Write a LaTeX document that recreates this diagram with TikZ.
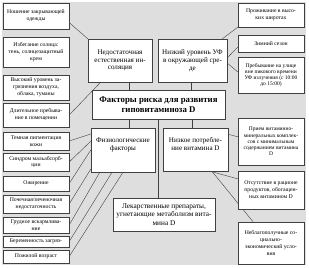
\documentclass[tikz,border=0pt]{standalone}
\usepackage{fontspec}
\setmainfont{Liberation Serif}
\usetikzlibrary{calc}
\pgfdeclarelayer{bg}
\pgfdeclarelayer{lns}
\pgfsetlayers{bg,lns,main}
\definecolor{bgc}{RGB}{222,222,222}
\tikzset{
  box/.style={draw=black!75, line width=0.4pt, fill=white, inner sep=1pt, align=center, anchor=center},
  sm/.style={box, font=\fontsize{5.7}{6.9}\selectfont},
  md/.style={box, font=\fontsize{7.1}{7.8}\selectfont},
  conn/.style={draw=black!75, line width=0.4pt}
}
\begin{document}
\begin{tikzpicture}[x=1pt,y=-1pt]
\begin{pgfonlayer}{bg}
\fill[white] (0,0) rectangle (309,268);
\fill[bgc] (2,2) rectangle (306,265);
\end{pgfonlayer}
\useasboundingbox (0,0) rectangle (309,268);

% left column
\node[sm, minimum width=66pt, minimum height=26pt] (L1) at (36,16) {Ношение закрывающей\\одежды};
\node[sm, minimum width=66pt, minimum height=30pt] (L2) at (36,52) {Избегание солнца:\\тень, солнцезащитный\\крем};
\node[sm, minimum width=66pt, minimum height=25pt] (L3) at (36,87.5) {Высокий уровень за-\\грязнения воздуха,\\облака, туманы};
\node[sm, minimum width=66pt, minimum height=24pt] (L4) at (36,115) {Длительное пребыва-\\ние в помещении};
\node[sm, minimum width=66pt, minimum height=18pt] (L5) at (36,141) {Темная пигментация\\кожи};
\node[sm, minimum width=66pt, minimum height=18pt] (L6) at (36,162) {Синдром мальабсорб-\\ции};
\node[sm, minimum width=66pt, minimum height=15pt] (L7) at (36,183.5) {Ожирение};
\node[sm, minimum width=66pt, minimum height=18pt] (L8) at (36,204) {Почечная/печеночная\\недостаточность};
\node[sm, minimum width=66pt, minimum height=16pt] (L9) at (36,225) {Грудное вскармлива-\\ние};
\node[sm, minimum width=66pt, minimum height=11pt] (L10) at (36,241.5) {Беременность загряз-};
\node[sm, minimum width=66pt, minimum height=13pt] (L11) at (36,256.5) {Пожилой возраст};

% centre
\node[md, minimum width=64pt, minimum height=43pt] (N) at (120,60.5) {Недостаточная\\естественная ин-\\соляция};
\node[md, minimum width=69pt, minimum height=43pt] (U) at (192.5,60.5) {Низкий уровень УФ\\в окружающей сре-\\де};
\node[box, font=\bfseries\fontsize{8.8}{10}\selectfont, minimum width=133pt, minimum height=29pt] (C) at (158.5,104.5) {Факторы риска для развития\\гиповитаминоза D};
\node[md, minimum width=64pt, minimum height=44pt] (F) at (123,150) {Физиологические\\факторы\\[4pt]};
\node[md, minimum width=65pt, minimum height=43pt] (P) at (195.5,149.5) {Низкое потребле-\\ние витамина D\\[4pt]};
\node[box, font=\fontsize{7.3}{8.3}\selectfont, minimum width=102pt, minimum height=33pt] (M) at (164,214.5) {Лекарственные препараты,\\угнетающие метаболизм вита-\\мина D};

% right column
\node[sm, minimum width=66pt, minimum height=24pt] (R1) at (271,15) {Проживание в высо-\\ких широтах};
\node[sm, minimum width=66pt, minimum height=17pt] (R2) at (271,43.5) {Зимний сезон};
\node[sm, font=\fontsize{5.5}{6.2}\selectfont, minimum width=66pt, minimum height=36pt] (R3) at (271,75) {Пребывание на улице\\вне пикового времени\\УФ излучения (с 10:00\\до 15:00)};
\node[sm, font=\fontsize{5.5}{6.2}\selectfont, minimum width=66pt, minimum height=47pt] (R4) at (271,141.5) {Прием витаминно-\\минеральных комплек-\\сов с минимальным\\содержанием витамина\\D};
\node[sm, minimum width=66pt, minimum height=38pt] (R5) at (271,190) {Отсутствие в рационе\\продуктов, обогащен-\\ных витамином D};
\node[sm, minimum width=66pt, minimum height=42pt] (R6) at (271,243) {Неблагополучные со-\\циально-\\экономический усло-\\вия};

\begin{pgfonlayer}{lns}
% insolation
\draw[conn] ($(L1.east)!0.5!(L1.south east)$) -- (N.north west);
\draw[conn] (L4.east) -- ($(N.south west)!0.2!(N.south east)$);
% centre verticals
\draw[conn] ($(N.south west)!0.64!(N.south east)$) coordinate (a1) -- (a1 |- C.north);
\draw[conn] ($(U.south west)!0.48!(U.south east)$) coordinate (a2) -- (a2 |- C.north);
\draw[conn] ($(F.north west)!0.59!(F.north east)$) coordinate (a3) -- (a3 |- C.south);
\draw[conn] ($(P.north west)!0.45!(P.north east)$) coordinate (a4) -- (a4 |- C.south);
\draw[conn] (C.south) -- (C.south |- M.north);
% UV
\draw[conn] ($(U.north west)!0.93!(U.north east)$) -- (R1.south west);
\draw[conn] ($(U.east)!0.12!(U.north east)$) -- ($(R2.west)!0.4!(R2.south west)$);
\draw[conn] ($(U.east)!0.12!(U.south east)$) -- ($(R3.west)!0.17!(R3.north west)$);
% physiological
\draw[conn] (L5.east) -- ($(F.north west)!0.14!(F.south west)$);
\draw[conn] (L6.east) -- ($(F.north west)!0.3!(F.south west)$);
\draw[conn] (L7.east) -- ($(F.north west)!0.5!(F.south west)$);
\draw[conn] (L8.east) -- ($(F.north west)!0.93!(F.south west)$);
\draw[conn] (L9.east) -- ($(F.south west)!0.14!(F.south east)$);
\draw[conn] (L10.east) -- ($(F.south west)!0.33!(F.south east)$);
\draw[conn] (L11.east) -- ($(F.south west)!0.5!(F.south east)$);
% intake
\draw[conn] ($(P.east)!0.7!(P.north east)$) -- ($(R4.west)!0.2!(R4.north west)$);
\draw[conn] ($(P.south west)!0.72!(P.south east)$) -- ($(R5.west)!0.58!(R5.north west)$);
\draw[conn] ($(P.south west)!0.75!(P.south east)$) -- ($(R6.north west)!0.23!(R6.north east)$);
\end{pgfonlayer}
\end{tikzpicture}
\end{document}
